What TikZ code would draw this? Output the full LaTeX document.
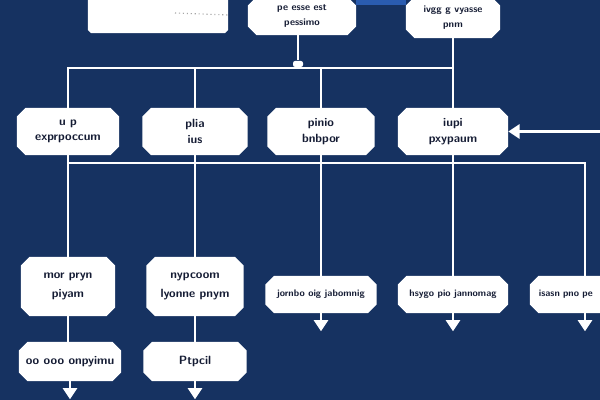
\documentclass[tikz,border=0pt]{standalone}
\usepackage{tikz}
\usetikzlibrary{arrows.meta,shapes.misc,calc}
\definecolor{flownavy}{HTML}{163261}
\definecolor{flowink}{HTML}{141B33}
\definecolor{flowsky}{HTML}{2A5CB0}
\tikzset{
  flowbox/.style={chamfered rectangle,chamfered rectangle xsep=3pt,chamfered rectangle ysep=3pt,fill=white,text=flowink,font=\sffamily\bfseries\fontsize{8.5}{11}\selectfont,inner sep=1pt,align=center},
  flowtop/.style={flowbox,font=\sffamily\bfseries\fontsize{7}{11}\selectfont},
  flowsmall/.style={flowbox,font=\sffamily\bfseries\fontsize{6.8}{8}\selectfont},
  flowwire/.style={draw=white,line width=2pt},
  flowarrow/.style={flowwire,-{Triangle[width=10pt,length=8pt]}},
  flowdot/.style={draw=gray!70,dotted,thick},
  flowlink/.style={draw=flowsky,line width=4pt},
  flowcap/.style={fill=white,rounded corners=1.5pt,minimum width=0.25cm,minimum height=0.15cm,inner sep=0pt}
}
\begin{document}
\begin{tikzpicture}[x=0.025cm,y=-0.025cm]
\fill[flownavy] (0,0) rectangle (600,400);
\useasboundingbox (0,0) rectangle (600,400);
% top row
\node[flowtop,minimum width=3.5cm,minimum height=0.9cm] (src) at (158,15) {};
\node[flowtop,minimum width=2.7cm,minimum height=0.95cm] (mid) at (302,16) {pe esse est\\pessimo};
\node[flowtop,minimum width=2.35cm,minimum height=1.025cm] (hub) at (453,17.5) {ivgg g vyasse\\pnm};
\coordinate (dotstart) at (175,13);
\coordinate (toprail) at (0,2);
\draw[flowdot] (dotstart) -- (src.east);
\draw[flowlink] (mid.east |- toprail) -- (hub.west |- toprail);
\coordinate (midend) at (298,60);
\draw[flowwire] (midend |- mid.south) -- (midend);
\node[flowcap] (midcap) at (298,64) {};
% second row
\node[flowbox,minimum width=2.55cm,minimum height=1.175cm] (p1) at (68,131.5) {u p\\exprpoccum};
\node[flowbox,minimum width=2.625cm,minimum height=1.175cm] (p2) at (195,131.5) {plia\\ius};
\node[flowbox,minimum width=2.675cm,minimum height=1.175cm] (p3) at (321,131.5) {pinio\\bnbpor};
\node[flowbox,minimum width=2.75cm,minimum height=1.175cm] (p4) at (453,131.5) {iupi\\pxypaum};
\coordinate (bus1) at (68,68);
\draw[flowwire] (hub.south) |- (bus1) -- (p1.north);
\draw[flowwire] (hub.south) -- (p4.north);
\foreach \n in {p2,p3}{\draw[flowwire] (\n.north |- bus1) -- (\n.north);}
\coordinate (feed) at (600,131.5);
\draw[flowarrow] (feed) -- (p4.east);
% third row
\node[flowbox,minimum width=2.35cm,minimum height=1.475cm] (q1) at (68,286.5) {mor pryn\\[3pt]piyam};
\node[flowbox,minimum width=2.425cm,minimum height=1.475cm] (q2) at (195,286.5) {nypcoom\\[3pt]lyonne pnym};
\node[flowsmall,minimum width=2.775cm,minimum height=0.925cm] (q3) at (321,294.5) {jornbo oig jabomnig};
\node[flowsmall,minimum width=2.75cm,minimum height=0.925cm] (q4) at (453,294.5) {hsygo pio jannomag};
\node[flowsmall,minimum width=2.75cm,minimum height=0.925cm,text width=2.3cm,align=left] (q5) at (585,294.5) {isasn pno pe};
\coordinate (bus2) at (585,163);
\draw[flowwire] (p1.south) |- (bus2) -- (q5.north);
\draw[flowwire] (p1.south) -- (q1.north);
\draw[flowwire] (p2.south) -- (q2.north);
\draw[flowwire] (p3.south) -- (q3.north);
\draw[flowwire] (p4.south) -- (q4.north);
% last row
\node[flowbox,minimum width=2.55cm,minimum height=0.975cm] (r1) at (70,361.5) {oo ooo onpyimu};
\node[flowbox,minimum width=2.575cm,minimum height=0.975cm] (r2) at (195,361.5) {Ptpcil};
\draw[flowwire] (q1.south) -- (q1.south |- r1.north);
\draw[flowwire] (q2.south) -- (r2.north);
\foreach \n in {q3,q4,q5,r1,r2}{\draw[flowarrow] (\n.south) -- ++(0,18);}
\end{tikzpicture}
\end{document}
